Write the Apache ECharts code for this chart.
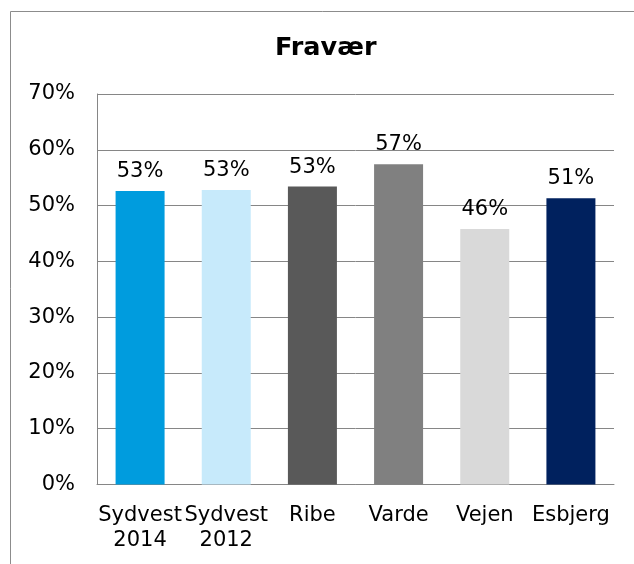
<!DOCTYPE html>
<html>
<head>
<meta charset="utf-8">
<script src="https://cdn.jsdelivr.net/npm/echarts@6/dist/echarts.min.js"></script>
<style>html,body{margin:0;padding:0;background:#fff;}#c{width:634px;height:564px;}</style>
</head>
<body>
<div id="c"></div>
<script>
var categories = ['Sydvest\n2014', 'Sydvest\n2012', 'Ribe', 'Varde', 'Vejen', 'Esbjerg'];
var values = [0.526, 0.528, 0.534, 0.574, 0.458, 0.513];
var colors = ['#009CDE', '#C7EAFB', '#595959', '#808080', '#D9D9D9', '#00215E'];
var yTicks = [0, 0.1, 0.2, 0.3, 0.4, 0.5, 0.6, 0.7];

var chart = echarts.init(document.getElementById('c'));
var font = 'DejaVu Sans, Verdana, sans-serif';
chart.setOption({
  animation: false,
  backgroundColor: '#fff',
  graphic: [{
    type: 'rect', left: 8, top: 9,
    shape: { width: 640, height: 570 },
    style: { fill: 'none', stroke: '#8c8c8c', lineWidth: 1 }
  }],
  title: {
    text: 'Fravær', left: 270, top: 30,
    textStyle: { fontFamily: font, fontSize: 25.5, fontWeight: 'bold', color: '#000' }
  },
  grid: { left: 97, right: 20, top: 94, bottom: 79.5 },
  xAxis: {
    type: 'category', data: categories,
    axisLine: { lineStyle: { color: '#868686', width: 1 } },
    axisTick: { show: false },
    axisLabel: { interval: 0, fontFamily: font, fontSize: 21, color: '#000', margin: 19, lineHeight: 25 }
  },
  yAxis: {
    type: 'value', min: 0, max: 0.7, interval: 0.1,
    axisLine: { show: true, lineStyle: { color: '#868686', width: 1 } },
    axisTick: { show: false },
    splitLine: { lineStyle: { color: '#868686', width: 1 } },
    axisLabel: {
      fontFamily: font, fontSize: 21, color: '#000', margin: 22,
      formatter: function (v) { return Math.round(v * 100) + '%'; }
    }
  },
  series: [{
    type: 'bar', barWidth: 49,
    data: values.map(function (v, i) { return { value: v, itemStyle: { color: colors[i] } }; }),
    label: {
      show: true, position: 'top', distance: 9,
      fontFamily: font, fontSize: 21, color: '#000',
      formatter: function (p) { return Math.round(p.value * 100) + '%'; }
    }
  }]
});
</script>
</body>
</html>
